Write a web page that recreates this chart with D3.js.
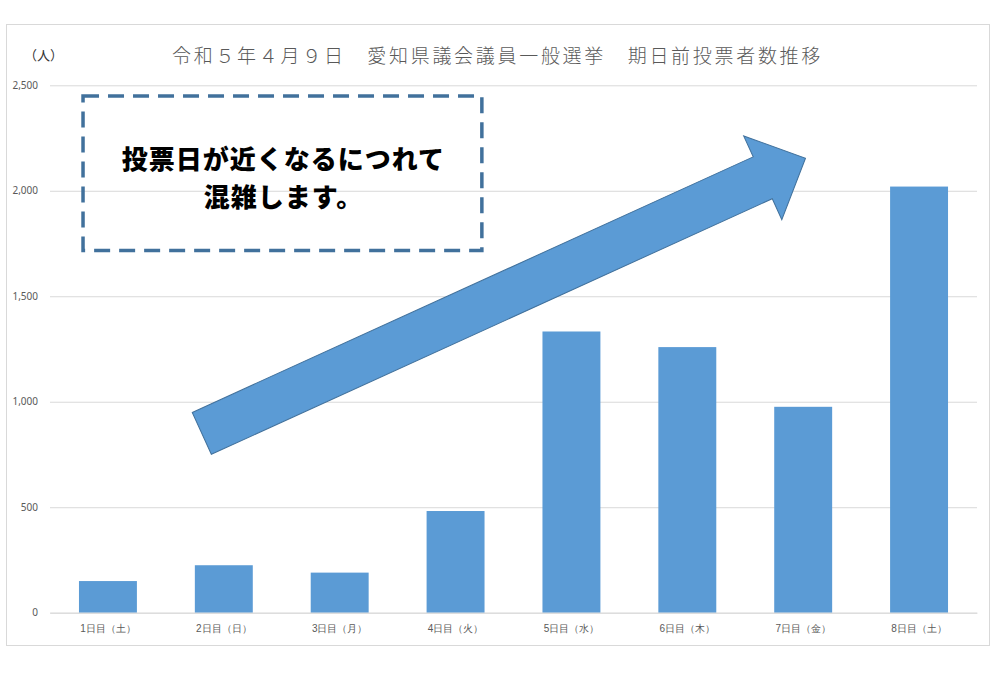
<!DOCTYPE html>
<html>
<head>
<meta charset="utf-8">
<script src="https://cdn.jsdelivr.net/npm/d3@7"></script>
<style>
    body { margin: 0; background: #fff; }
    svg { display: block; font-family: "Noto Sans CJK JP", "Noto Sans", sans-serif; }
</style>
</head>
<body>
<div id="chart"></div>
<script>
// 期日前投票者数（人）
const days = ["1日目（土）", "2日目（日）", "3日目（月）", "4日目（火）", "5日目（水）", "6日目（木）", "7日目（金）", "8日目（土）"];
const voters = [150, 225, 190, 482, 1333, 1259, 976, 2020];
const yTicks = [0, 500, 1000, 1500, 2000, 2500];

const titleText = "令和５年４月９日　愛知県議会議員一般選挙　期日前投票者数推移";
const unitText = "（人）";
const noteLines = ["投票日が近くなるにつれて", "混雑します。"];

// annotation positions in chart units: [band position, value]
const noteBox = [[0.285, 2449], [3.727, 1717]];
const arrowFrom = [1.31, 850];
const arrowTo = [6.52, 2154];

const W = 1000, H = 685;
const margin = { left: 50, right: 23, top: 85.3, bottom: 72.3 };
const width = W - margin.left - margin.right;
const height = H - margin.top - margin.bottom;

const svg = d3.select("#chart").append("svg")
    .attr("width", W)
    .attr("height", H);

// chart frame
svg.append("rect")
    .attr("x", 6.5).attr("y", 24.5)
    .attr("width", 983).attr("height", 621)
    .attr("fill", "#fff")
    .attr("stroke", "#d9d9d9");

svg.append("text")
    .attr("x", 497.5).attr("y", 54)
    .attr("text-anchor", "middle")
    .attr("dominant-baseline", "central")
    .style("font-size", "19px")
    .style("font-weight", 300)
    .style("letter-spacing", "2.7px")
    .style("fill", "#595959")
    .text(titleText);

svg.append("text")
    .attr("x", 24).attr("y", 54)
    .attr("dominant-baseline", "central")
    .style("font-size", "13px")
    .style("fill", "#333")
    .text(unitText);

const g = svg.append("g")
    .attr("transform", "translate(" + margin.left + "," + margin.top + ")");

const x = d3.scaleBand()
    .domain(days)
    .range([0, width])
    .paddingInner(0.5)
    .paddingOuter(0.25);

// continuous version of the band axis, for the annotations
const xPos = d3.scaleLinear().domain([0, days.length]).range([0, width]);

const y = d3.scaleLinear()
    .domain([0, 2500])
    .range([height, 0]);

// gridlines + y labels
const yAxis = g.append("g")
    .call(d3.axisLeft(y)
        .tickValues(yTicks)
        .tickFormat(d3.format(","))
        .tickSize(-width)
        .tickPadding(12));
yAxis.select(".domain").remove();
yAxis.selectAll("line").attr("stroke", "#d9d9d9");
yAxis.selectAll("text")
    .style("font-size", "10px")
    .style("font-family", "\"Noto Sans\", sans-serif")
    .style("fill", "#595959");

// bars
g.selectAll(".bar")
    .data(voters)
    .enter()
    .append("rect")
    .attr("class", "bar")
    .attr("x", (d, i) => x(days[i]))
    .attr("width", x.bandwidth())
    .attr("y", d => y(d))
    .attr("height", d => height - y(d))
    .attr("fill", "#5b9bd5");

const xAxis = g.append("g")
    .attr("transform", "translate(0," + height + ")")
    .call(d3.axisBottom(x).tickSize(0).tickPadding(12));
xAxis.select(".domain").attr("stroke", "#d9d9d9");
xAxis.selectAll("text")
    .style("font-size", "10px")
    .style("fill", "#595959");

// dashed note box
const bx0 = xPos(noteBox[0][0]), bx1 = xPos(noteBox[1][0]);
const by0 = y(noteBox[0][1]), by1 = y(noteBox[1][1]);
g.append("rect")
    .attr("x", bx0).attr("y", by0)
    .attr("width", bx1 - bx0).attr("height", by1 - by0)
    .attr("fill", "none")
    .attr("stroke", "#41719c")
    .attr("stroke-width", 3.5)
    .attr("stroke-dasharray", "16 9");

g.selectAll(".note")
    .data(noteLines)
    .enter()
    .append("text")
    .attr("class", "note")
    .attr("x", (bx0 + bx1) / 2 + 1)
    .attr("y", (d, i) => by0 + 61 + i * 38)
    .attr("text-anchor", "middle")
    .attr("dominant-baseline", "central")
    .style("font-size", "26px")
    .style("font-weight", 900)
    .style("letter-spacing", "1px")
    .style("fill", "#000")
    .text(d => d);

// block arrow
const ax0 = xPos(arrowFrom[0]), ay0 = y(arrowFrom[1]);
const ax1 = xPos(arrowTo[0]), ay1 = y(arrowTo[1]);
const len = Math.hypot(ax1 - ax0, ay1 - ay0);
const angle = Math.atan2(ay1 - ay0, ax1 - ax0) * 180 / Math.PI;
const shaft = 23, head = 46, headLen = 47;
const arrowPts = [
    [0, -shaft], [len - headLen, -shaft], [len - headLen, -head], [len, 0],
    [len - headLen, head], [len - headLen, shaft], [0, shaft]
];
g.append("path")
    .attr("transform", "translate(" + ax0 + "," + ay0 + ") rotate(" + angle + ")")
    .attr("d", d3.line()(arrowPts) + "Z")
    .attr("fill", "#5b9bd5")
    .attr("stroke", "#41719c")
    .attr("stroke-width", 1);
</script>
</body>
</html>
